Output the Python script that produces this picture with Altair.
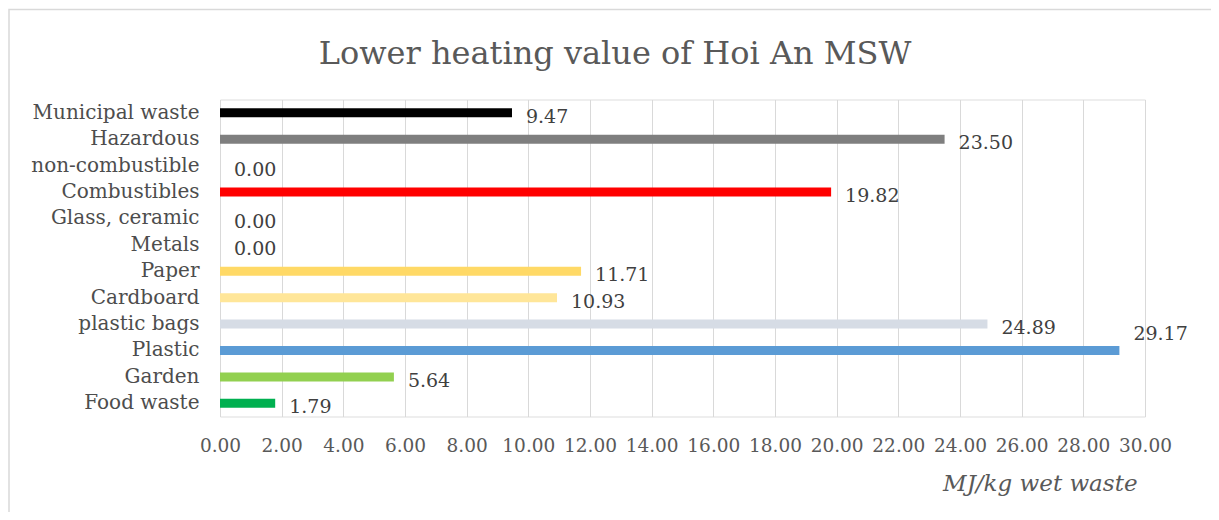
import altair as alt
import pandas as pd

categories = ["Municipal waste", "Hazardous", "non-combustible", "Combustibles",
              "Glass, ceramic", "Metals", "Paper", "Cardboard", "plastic bags",
              "Plastic", "Garden", "Food waste"]
values = [9.47, 23.50, 0.00, 19.82, 0.00, 0.00, 11.71, 10.93, 24.89, 29.17, 5.64, 1.79]
colors = ["#000000", "#7f7f7f", "#ffffff", "#ff0000", "#ffffff", "#ffffff",
          "#ffd966", "#ffe699", "#d6dce5", "#5b9bd5", "#92d050", "#00b050"]
tick_values = [0, 2, 4, 6, 8, 10, 12, 14, 16, 18, 20, 22, 24, 26, 28, 30]
title_text = "Lower heating value of Hoi An MSW"

df = pd.DataFrame({"cat": categories, "value": values, "color": colors})

FONT = "DejaVu Serif"
GRAY = "#595959"

xscale = alt.Scale(domain=[0, 30], nice=False, zero=True)
yscale = alt.Scale(domain=categories, paddingInner=0, paddingOuter=0)

base = alt.Chart(df)

bars = base.mark_bar(size=9).encode(
    x=alt.X("value:Q", scale=xscale,
            axis=alt.Axis(values=tick_values, format=".2f", title="MJ/kg wet waste",
                          grid=True, gridColor="#d9d9d9", gridWidth=1,
                          domain=False, ticks=False, labelPadding=20,
                          labelOverlap=False, labelFlush=False,
                          labelFont=FONT, labelFontSize=18.5, labelColor=GRAY,
                          titleFont=FONT, titleFontSize=23, titleFontStyle="italic",
                          titleFontWeight="normal", titleColor=GRAY,
                          titleAnchor="end", titleAlign="right", titleBaseline="middle",
                          titleX=917, titleY=67)),
    y=alt.Y("cat:N", scale=yscale, sort=categories,
            axis=alt.Axis(title=None, domain=False, ticks=False, grid=False,
                          labelPadding=21, labelFont=FONT, labelFontSize=20,
                          labelColor="#4d4d4d", labelLimit=400)),
    color=alt.Color("color:N", scale=None),
)

labels = base.transform_filter("datum.value < 29").mark_text(
    align="left", baseline="middle", dx=14, dy=4, font=FONT, fontSize=19, color="#404040"
).encode(
    x=alt.X("value:Q", scale=xscale),
    y=alt.Y("cat:N", scale=yscale, sort=categories),
    text=alt.Text("value:Q", format=".2f"),
)

labels_top = base.transform_filter("datum.value >= 29").mark_text(
    align="left", baseline="middle", dx=14, dy=-16, font=FONT, fontSize=19, color="#404040"
).encode(
    x=alt.X("value:Q", scale=xscale),
    y=alt.Y("cat:N", scale=yscale, sort=categories),
    text=alt.Text("value:Q", format=".2f"),
)

one = alt.Data(values=[{}])

frame = alt.Chart(one).mark_rect(
    fillOpacity=0, stroke="#d9d9d9", strokeWidth=1.5
).encode(
    x=alt.value(-211), x2=alt.value(1100), y=alt.value(-90), y2=alt.value(600)
)

title = alt.Chart(one).mark_text(
    text=title_text, font=FONT, fontSize=32, color=GRAY,
    align="center", baseline="alphabetic"
).encode(x=alt.value(395), y=alt.value(-36))

chart = alt.layer(frame, title, bars, labels, labels_top).properties(
    width=925, height=317,
    autosize=alt.AutoSizeParams(type="none"),
    padding={"left": 212, "top": 91.5, "right": 66, "bottom": 95.5},
).configure_view(stroke=None).configure(background="white")

chart.save("out.html", embed_options={"renderer": "svg", "actions": False})
